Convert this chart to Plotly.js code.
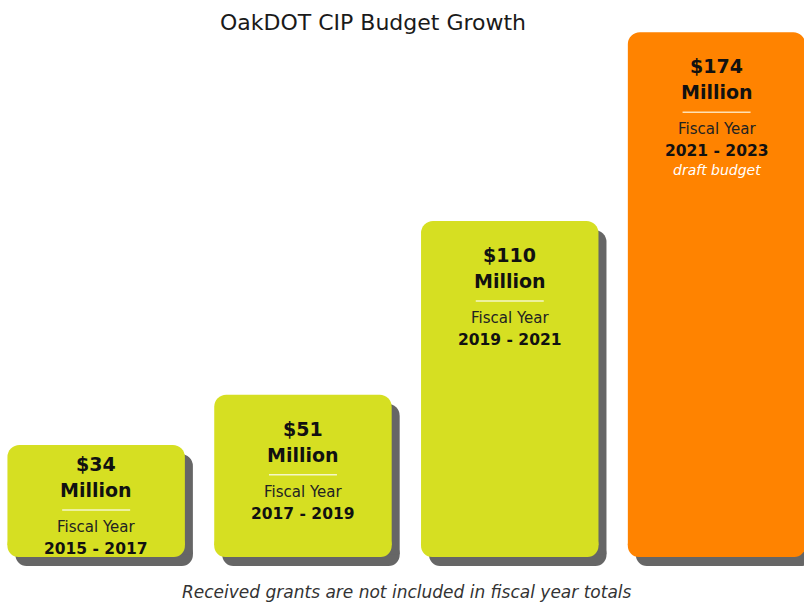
<!DOCTYPE html>
<html><head><meta charset="utf-8">
<script src="https://cdn.plot.ly/plotly-3.0.1.min.js"></script>
<style>html,body{margin:0;padding:0;background:#fff}#chart{width:804px;height:602px}</style>
</head><body><div id="chart"></div>
<script>
// ---- data ----
const categories = ['FY 2015-2017', 'FY 2017-2019', 'FY 2019-2021', 'FY 2021-2023'];
const budgetMillions = [34, 51, 110, 174];
const amountLabels = ['$34', '$51', '$110', '$174'];
const unitLabels = ['Million', 'Million', 'Million', 'Million'];
const yearLabels = ['2015 - 2017', '2017 - 2019', '2019 - 2021', '2021 - 2023'];
const noteLabels = ['', '', '', 'draft budget'];
const chartTitle = 'OakDOT CIP Budget Growth';
const footnote = 'Received grants are not included in fiscal year totals';

// ---- style ----
const barColors = ['#D6DF22', '#D6DF22', '#D6DF22', '#FF8300'];
const sepColors = ['rgba(255,255,255,0.75)', 'rgba(255,255,255,0.75)', 'rgba(255,255,255,0.75)', 'rgba(255,235,200,0.9)'];
const shadowColor = '#666666';
const FONT = 'DejaVu Sans, Open Sans, sans-serif';
const W = 804, H = 602;
const pxPerCat = 206.8;          // horizontal scale
const pxPerUnit = 2.948;         // vertical scale (px per $M)
const zeroPx = 545.2;            // pixel row of value 0
const pad = 4;                   // rounded base below zero
const shadowDx = 8, shadowDy = 9;
const radius = 12;

const xr0 = -0.465, xr1 = xr0 + W / pxPerCat;
const yr0 = -(H - zeroPx) / pxPerUnit, yr1 = zeroPx / pxPerUnit;
const padVals = categories.map(() => -2 * pad);
const padBase = categories.map(() => pad);

function barPair(xa, ya, colors) {
  return [
    {type: 'bar', x: categories, y: padVals, base: padBase, xaxis: xa, yaxis: ya, width: 0.858,
     marker: {color: colors, line: {width: 0}, cornerradius: radius}, hoverinfo: 'skip', showlegend: false},
    {type: 'bar', x: categories, y: budgetMillions, xaxis: xa, yaxis: ya, width: 0.858,
     marker: {color: colors, line: {width: 0}, cornerradius: radius}, hoverinfo: 'skip', showlegend: false}
  ];
}
const shadowColors = categories.map(() => shadowColor);
const data = [...barPair('x', 'y', shadowColors), ...barPair('x2', 'y2', barColors)];

const annotations = [];
const shapes = [];
budgetMillions.forEach((v, i) => {
  const hpx = (v + pad) * pxPerUnit;
  const top = Math.min(34, hpx / 2 - 37);
  const base = {x: categories[i], y: v, xref: 'x2', yref: 'y2', xanchor: 'center', yanchor: 'middle', showarrow: false};
  annotations.push({...base, text: '<b>' + amountLabels[i] + '</b>', yshift: -top, font: {family: FONT, size: 19, color: '#111'}});
  annotations.push({...base, text: '<b>' + unitLabels[i] + '</b>', yshift: -(top + 26), font: {family: FONT, size: 19, color: '#111'}});
  annotations.push({...base, text: 'Fiscal Year', yshift: -(top + 63), font: {family: FONT, size: 15, color: '#222'}});
  annotations.push({...base, text: '<b>' + yearLabels[i] + '</b>', yshift: -(top + 85), font: {family: FONT, size: 15.5, color: '#111'}});
  if (noteLabels[i]) {
    annotations.push({...base, text: '<i>' + noteLabels[i] + '</i>', yshift: -(top + 104), font: {family: FONT, size: 14, color: '#ffffff'}});
  }
  shapes.push({type: 'line', xref: 'x2', yref: 'y2', xsizemode: 'pixel', ysizemode: 'pixel',
    xanchor: categories[i], yanchor: v, x0: -34, x1: 34, y0: -(top + 46), y1: -(top + 46),
    line: {color: sepColors[i], width: 1.5}, layer: 'above'});
});

annotations.push({text: '<i>' + footnote + '</i>', xref: 'paper', yref: 'paper', x: 407 / W, y: 0, yshift: 10,
  xanchor: 'center', yanchor: 'middle', showarrow: false, font: {family: FONT, size: 17, color: '#333'}});

const hidden = {showgrid: false, zeroline: false, showticklabels: false, showline: false, ticks: ''};
const layout = {
  width: W, height: H,
  margin: {l: 0, r: 0, t: 0, b: 0, pad: 0},
  paper_bgcolor: '#ffffff', plot_bgcolor: 'rgba(0,0,0,0)',
  barmode: 'overlay',
  showlegend: false,
  title: {text: chartTitle, x: 373 / W, xanchor: 'center', xref: 'paper', y: 1 - 22 / H, yanchor: 'middle', yref: 'container',
    font: {family: FONT, size: 22, color: '#1a1a1a'}},
  xaxis: {...hidden, type: 'category', categoryorder: 'array', categoryarray: categories,
    range: [xr0 - shadowDx / pxPerCat, xr1 - shadowDx / pxPerCat], fixedrange: true},
  yaxis: {...hidden, range: [yr0 + shadowDy / pxPerUnit, yr1 + shadowDy / pxPerUnit], fixedrange: true},
  xaxis2: {...hidden, type: 'category', categoryorder: 'array', categoryarray: categories,
    range: [xr0, xr1], overlaying: 'x', fixedrange: true},
  yaxis2: {...hidden, range: [yr0, yr1], overlaying: 'y', fixedrange: true},
  annotations, shapes
};
Plotly.newPlot('chart', data, layout, {displayModeBar: false, staticPlot: true});
</script></body></html>
